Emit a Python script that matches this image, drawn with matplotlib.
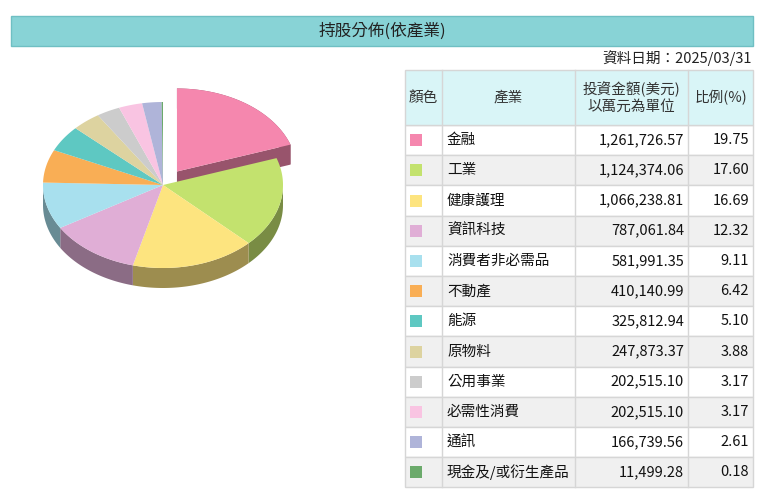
import numpy as np
import matplotlib
matplotlib.use("Agg")
import matplotlib.pyplot as plt
from matplotlib.patches import Polygon, Rectangle
from matplotlib.colors import to_rgb

plt.rcParams['font.family'] = ['Noto Sans CJK TC', 'DejaVu Sans']

industries = ["金融", "工業", "健康護理", "資訊科技", "消費者非必需品", "不動產", "能源",
              "原物料", "公用事業", "必需性消費", "通訊", "現金及/或衍生產品"]
amounts = ["1,261,726.57", "1,124,374.06", "1,066,238.81", "787,061.84", "581,991.35",
           "410,140.99", "325,812.94", "247,873.37", "202,515.10", "202,515.10",
           "166,739.56", "11,499.28"]
percents = [19.75, 17.60, 16.69, 12.32, 9.11, 6.42, 5.10, 3.88, 3.17, 3.17, 2.61, 0.18]
colors = ["#F587AE", "#C3E26E", "#FDE47F", "#E0AED6", "#A8E0EE", "#F9AE55", "#5EC8C2",
          "#DDD3A0", "#CCCCCC", "#F9C4E2", "#AFB4D9", "#6BAA6B"]
title = "持股分佈(依產業)"
date_text = "資料日期：2025/03/31"

fig = plt.figure(figsize=(7.62, 4.94), dpi=100)
ax = fig.add_axes([0, 0, 1, 1])
ax.set_xlim(0, 762); ax.set_ylim(494, 0); ax.axis('off')

# title bar
ax.add_patch(Rectangle((11, 16), 742, 30, facecolor="#88D3D6", edgecolor="#6FBFC3", lw=1))
ax.text(382, 31, title, ha='center', va='center', fontsize=12, color="#222")
ax.text(752, 58, date_text, ha='right', va='center', fontsize=10.5, color="#222")

# 3D pie
cx, cy, rx, ry, depth = 163, 185, 120, 83, 20
vals = np.array(percents)
angs = 90 - np.concatenate([[0], np.cumsum(vals)]) / vals.sum() * 360
def dark(c, f=0.62):
    return tuple(v * f for v in to_rgb(c))
slices = []
for i in range(len(vals)):
    a1, a2 = angs[i], angs[i + 1]
    mid = np.radians((a1 + a2) / 2)
    ex = 0.2 if i == 0 else 0.0
    ox, oy = cx + ex * rx * np.cos(mid), cy - ex * ry * np.sin(mid)
    t = np.radians(np.linspace(a1, a2, 80))
    slices.append((i, ox, oy, t))
# side walls
for i, ox, oy, t in slices:
    xs = ox + rx * np.cos(t); ys = oy - ry * np.sin(t)
    vis = np.sin(t) <= 0.02
    if i == 0:
        vis = np.ones_like(vis, bool)
    if vis.any():
        xv, yv = xs[vis], ys[vis]
        pts = np.concatenate([np.c_[xv, yv], np.c_[xv[::-1], yv[::-1] + depth]])
        ax.add_patch(Polygon(pts, closed=True, facecolor=dark(colors[i]), edgecolor='none'))
    if i == 0:
        # radial wall of exploded slice
        tb = t[-1]
        pts = [(ox, oy), (ox + rx*np.cos(tb), oy - ry*np.sin(tb)),
               (ox + rx*np.cos(tb), oy - ry*np.sin(tb) + depth), (ox, oy + depth)]
        ax.add_patch(Polygon(pts, closed=True, facecolor=dark(colors[i]), edgecolor='none'))
# tops
for i, ox, oy, t in slices:
    pts = np.concatenate([[[ox, oy]], np.c_[ox + rx*np.cos(t), oy - ry*np.sin(t)]])
    ax.add_patch(Polygon(pts, closed=True, facecolor=colors[i], edgecolor='none'))

# table
x0, x1, x2, x3, x4 = 405, 442, 575, 688, 753
ytop, hh, rh = 70, 55, 30.2
line = "#D6D6D6"
ax.add_patch(Rectangle((x0, ytop), x4 - x0, hh, facecolor="#D9F5F7", edgecolor=line, lw=1))
for xv in (x1, x2, x3):
    ax.plot([xv, xv], [ytop, ytop + hh + rh * len(industries)], color=line, lw=1)
hc = ytop + hh / 2
ax.text((x0 + x1) / 2, hc, "顏色", ha='center', va='center', fontsize=10.5, color="#333")
ax.text((x1 + x2) / 2, hc, "產業", ha='center', va='center', fontsize=10.5, color="#333")
ax.text((x2 + x3) / 2, hc, "投資金額(美元)\n以萬元為單位", ha='center', va='center',
        fontsize=10.5, color="#333", linespacing=1.3)
ax.text((x3 + x4) / 2, hc, "比例(%)", ha='center', va='center', fontsize=10.5, color="#333")
for r, (name, amt, pct, col) in enumerate(zip(industries, amounts, percents, colors)):
    y = ytop + hh + r * rh
    bg = "#FFFFFF" if r % 2 == 0 else "#F0F0F0"
    ax.add_patch(Rectangle((x0, y), x4 - x0, rh, facecolor=bg, edgecolor=line, lw=1, zorder=0))
    yc = y + rh / 2
    ax.add_patch(Rectangle((x0 + 5, yc - 6), 12, 12, facecolor=col, edgecolor='none'))
    ax.text(x1 + 5, yc, name, ha='left', va='center', fontsize=10.5, color="#111")
    ax.text(x3 - 4, yc, amt, ha='right', va='center', fontsize=10.5, color="#111")
    ax.text(x4 - 4, yc, f"{pct:.2f}", ha='right', va='center', fontsize=10.5, color="#111")

fig.savefig("out.png", dpi=100)
